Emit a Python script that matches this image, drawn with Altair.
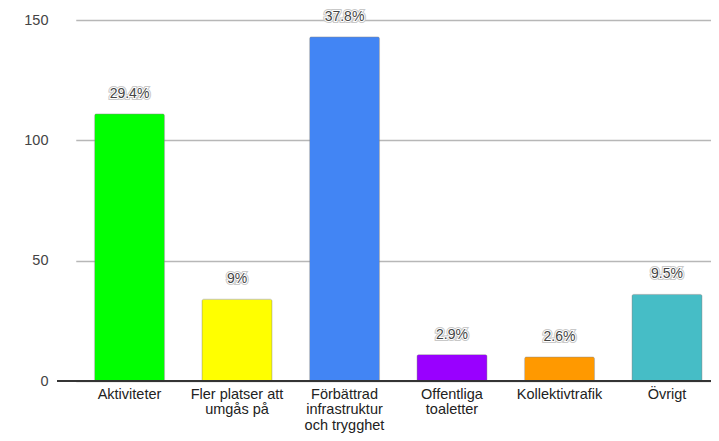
import altair as alt
import pandas as pd

categories = ["Aktiviteter", "Fler platser att|umgås på", "Förbättrad|infrastruktur|och trygghet",
              "Offentliga|toaletter", "Kollektivtrafik", "Övrigt"]
values = [111, 34, 143, 11, 10, 36]
pct_labels = ["29.4%", "9%", "37.8%", "2.9%", "2.6%", "9.5%"]
colors = ["#00ff00", "#ffff00", "#4285f4", "#9900ff", "#ff9900", "#46bdc6"]

df = pd.DataFrame({"cat": categories, "val": values, "pct": pct_labels})

W, H = 654, 361
FONT = "Liberation Sans"
ysc = alt.Scale(domain=[0, 150], nice=False)

x = alt.X("cat:N", sort=categories,
          scale=alt.Scale(range=[18.75, 663.75], paddingInner=0.348, paddingOuter=0.174),
          axis=alt.Axis(title=None, labelAngle=0, domain=False, ticks=False,
                        labelExpr="split(datum.label, '|')", labelFont=FONT,
                        labelFontSize=14.5, labelColor="#222", labelPadding=6,
                        labelLineHeight=15.5, labelBaseline="top"))
y = alt.Y("val:Q", scale=ysc,
          axis=alt.Axis(title=None, values=[0, 50, 100, 150], domain=False, ticks=False,
                        labelFont=FONT, labelFontSize=14.5, labelColor="#444", labelPadding=9,
                        gridColor="#b7b7b7", gridWidth=1.5))

base = alt.Chart(df)

bars = base.mark_bar(cornerRadiusTopLeft=2, cornerRadiusTopRight=2, stroke="#888",
                     strokeOpacity=0.5, strokeWidth=0.7).encode(
    x=x, y=y,
    color=alt.Color("cat:N", sort=categories,
                    scale=alt.Scale(domain=categories, range=colors), legend=None))

baseline = alt.Chart(df).mark_rule(color="#333", strokeWidth=1.2).encode(
    y=alt.datum(0), x=alt.value(0), x2=alt.value(W))

tx = alt.X("cat:N", sort=categories)
DY = -20
FS = 14
halo1 = base.mark_text(font=FONT, fontSize=FS, dy=DY, baseline="middle",
                       stroke="#c8c8c8", strokeWidth=4, fill="#c8c8c8").encode(
    x=tx, y="val:Q", text="pct:N")
halo2 = base.mark_text(font=FONT, fontSize=FS, dy=DY, baseline="middle",
                       stroke="#ffffff", strokeWidth=2, fill="#ffffff").encode(
    x=tx, y="val:Q", text="pct:N")
text = base.mark_text(font=FONT, fontSize=FS, dy=DY, baseline="middle", fill="#444").encode(
    x=tx, y="val:Q", text="pct:N")

chart = alt.layer(bars, baseline, halo1, halo2, text).properties(
    width=W, height=H,
    background="white",
    autosize=alt.AutoSizeParams(type="none"),
    padding={"left": 49, "top": 12, "right": 0, "bottom": 52},
).configure_view(stroke=None)

chart.save("out.html", embed_options={"renderer": "svg", "actions": False})
